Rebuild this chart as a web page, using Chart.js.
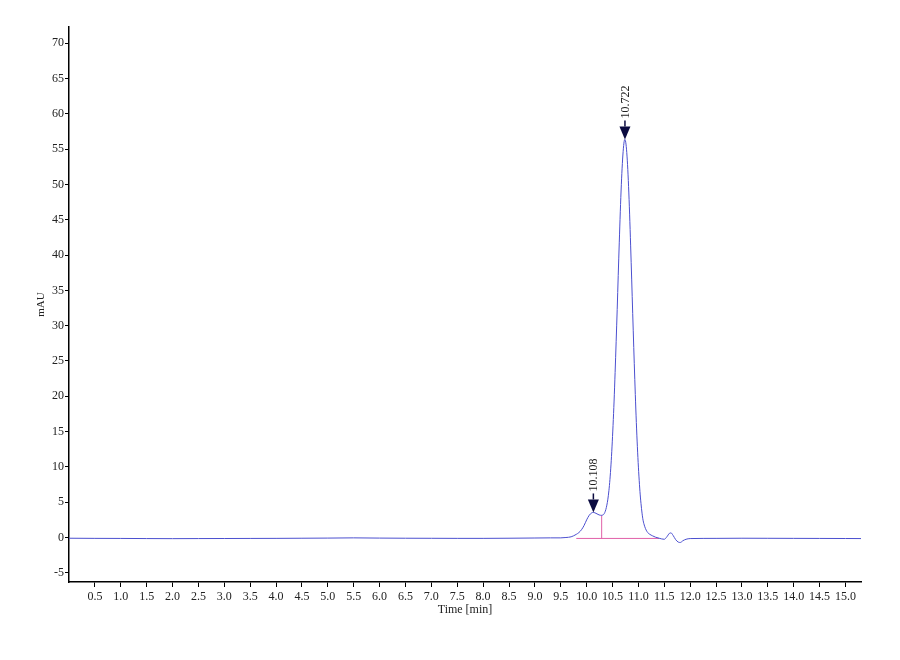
<!DOCTYPE html>
<html>
<head>
<meta charset="utf-8">
<script src="https://cdn.jsdelivr.net/npm/chart.js@4.4.1/dist/chart.umd.min.js"></script>
<style>
  html, body { margin: 0; padding: 0; background: #ffffff; }
  #wrap { width: 900px; height: 660px; }
</style>
</head>
<body>
<div id="wrap"><canvas id="c" width="900" height="660"></canvas></div>
<script>
// ---- data ----
const times = [
  0.0, 0.5, 1.0, 1.5, 2.0, 2.5, 3.0, 3.5, 4.0, 4.5, 5.0, 5.5, 6.0, 6.5, 7.0, 7.5, 8.0, 8.5, 9.0, 9.3,
  9.5, 9.6, 9.7, 9.75, 9.8, 9.85, 9.9, 9.95, 10.0, 10.05, 10.10, 10.13, 10.16, 10.20, 10.24, 10.27,
  10.29, 10.31, 10.33, 10.35, 10.37, 10.39, 10.41, 10.43, 10.45, 10.47, 10.49, 10.51, 10.53, 10.55,
  10.57, 10.59, 10.61, 10.63, 10.65, 10.67, 10.69, 10.71, 10.73, 10.74, 10.75, 10.77, 10.79, 10.81,
  10.83, 10.85, 10.87, 10.89, 10.91, 10.93, 10.95, 10.97, 10.99, 11.01, 11.03, 11.05, 11.07, 11.09,
  11.12, 11.15, 11.18, 11.22, 11.27, 11.33, 11.40, 11.45, 11.50, 11.55, 11.60, 11.63, 11.67, 11.72,
  11.77, 11.81, 11.86, 11.92, 12.0, 12.5, 13.0, 13.5, 14.0, 14.5, 15.0, 15.3
];
const signal = [
  -0.10, -0.12, -0.13, -0.15, -0.16, -0.15, -0.14, -0.13, -0.12, -0.10, -0.08, -0.05, -0.08, -0.10, -0.11, -0.12, -0.12, -0.10, -0.07, -0.05,
  -0.05, 0.0, 0.1, 0.25, 0.45, 0.7, 1.1, 1.7, 2.5, 3.15, 3.5, 3.55, 3.5, 3.35, 3.2, 3.15,
  3.14, 3.18, 3.28, 3.53, 3.95, 4.58, 5.43, 6.63, 8.23, 10.28, 12.83, 15.88, 19.33, 23.38,
  27.73, 32.28, 37.13, 41.73, 46.13, 49.96, 52.98, 55.13, 56.28, 56.36, 56.2, 55.0, 52.8, 49.7,
  45.8, 41.3, 36.6, 31.7, 26.9, 22.4, 18.2, 14.5, 11.35, 8.7, 6.5, 4.8, 3.45, 2.45,
  1.6, 1.05, 0.7, 0.45, 0.25, 0.05, -0.1, -0.2, -0.25, 0.1, 0.6, 0.65, 0.3, -0.3,
  -0.65, -0.7, -0.45, -0.25, -0.15, -0.12, -0.10, -0.11, -0.12, -0.13, -0.14, -0.15
];
const xTicks = [0.5,1.0,1.5,2.0,2.5,3.0,3.5,4.0,4.5,5.0,5.5,6.0,6.5,7.0,7.5,8.0,8.5,9.0,9.5,10.0,10.5,11.0,11.5,12.0,12.5,13.0,13.5,14.0,14.5,15.0];
const yTicks = [-5,0,5,10,15,20,25,30,35,40,45,50,55,60,65,70];
const peakTimes = [10.13, 10.74];
const peakHeights = [3.55, 56.36];
const peakLabels = ['10.108', '10.722'];
const baseLineTimes = [9.8, 11.4];
const baseLineLevel = -0.13;
const dropTime = 10.29;
const dropTop = 3.14;

const FONT = '"Liberation Serif", "DejaVu Serif", serif';

const points = times.map((t, i) => ({ x: t, y: signal[i] }));

const integrationPlugin = {
  id: 'integration',
  beforeDatasetsDraw(chart) {
    const { ctx, scales: { x, y } } = chart;
    ctx.save();
    ctx.strokeStyle = '#e060a8';
    ctx.lineWidth = 1;
    ctx.beginPath();
    ctx.moveTo(x.getPixelForValue(baseLineTimes[0]), y.getPixelForValue(baseLineLevel));
    ctx.lineTo(x.getPixelForValue(baseLineTimes[1]), y.getPixelForValue(baseLineLevel));
    ctx.moveTo(x.getPixelForValue(dropTime), y.getPixelForValue(baseLineLevel));
    ctx.lineTo(x.getPixelForValue(dropTime), y.getPixelForValue(dropTop));
    ctx.stroke();
    ctx.restore();
  },
  afterDatasetsDraw(chart) {
    const { ctx, scales: { x, y } } = chart;
    ctx.save();
    peakTimes.forEach((t, i) => {
      const px = x.getPixelForValue(t);
      const py = y.getPixelForValue(peakHeights[i]);
      // triangle
      ctx.fillStyle = '#0b0b40';
      ctx.beginPath();
      ctx.moveTo(px, py);
      ctx.lineTo(px - 5.5, py - 13);
      ctx.lineTo(px + 5.5, py - 13);
      ctx.closePath();
      ctx.fill();
      // stem
      ctx.strokeStyle = '#0b0b40';
      ctx.lineWidth = 1.5;
      ctx.beginPath();
      ctx.moveTo(px, py - 13);
      ctx.lineTo(px, py - 19);
      ctx.stroke();
      // label
      ctx.save();
      ctx.translate(px, py - 21);
      ctx.rotate(-Math.PI / 2);
      ctx.fillStyle = '#222222';
      ctx.font = '12px ' + FONT;
      ctx.textAlign = 'left';
      ctx.textBaseline = 'middle';
      ctx.fillText(peakLabels[i], 0, 0.5);
      ctx.restore();
    });
    ctx.restore();
  }
};

new Chart(document.getElementById('c'), {
  type: 'scatter',
  data: {
    datasets: [{
      data: points,
      showLine: true,
      borderColor: '#4b4fcf',
      borderWidth: 1,
      pointRadius: 0,
      fill: false,
      cubicInterpolationMode: 'monotone'
    }]
  },
  options: {
    responsive: false,
    animation: false,
    layout: { padding: { left: 0, right: 39, top: 27, bottom: 0 } },
    plugins: { legend: { display: false }, tooltip: { enabled: false } },
    scales: {
      x: {
        type: 'linear',
        min: 0,
        max: 15.3,
        afterBuildTicks(scale) { scale.ticks = xTicks.map(v => ({ value: v })); },
        afterFit(scale) { scale.height = 78; },
        grid: { drawOnChartArea: false, drawTicks: true, tickLength: 5, color: '#000', lineWidth: 1 },
        border: { display: true, color: '#000', width: 1.5 },
        ticks: {
          color: '#222',
          font: { family: FONT, size: 12 },
          padding: 3,
          maxRotation: 0,
          autoSkip: false,
          callback: v => Number(v).toFixed(1)
        },
        title: {
          display: true,
          text: 'Time [min]',
          color: '#222',
          font: { family: FONT, size: 12 },
          padding: { top: 0, bottom: 43 }
        }
      },
      y: {
        type: 'linear',
        min: -6.3,
        max: 72.3,
        afterBuildTicks(scale) { scale.ticks = yTicks.map(v => ({ value: v })); },
        afterFit(scale) { scale.width = 69; },
        grid: { drawOnChartArea: false, drawTicks: true, tickLength: 4, color: '#000', lineWidth: 1 },
        border: { display: true, color: '#000', width: 1.5 },
        ticks: {
          color: '#222',
          font: { family: FONT, size: 12 },
          padding: 1,
          autoSkip: false,
          callback: v => String(v)
        },
        title: {
          display: true,
          text: 'mAU',
          color: '#222',
          font: { family: FONT, size: 11 },
          padding: { top: 35, bottom: 0 }
        }
      }
    }
  },
  plugins: [integrationPlugin]
});
</script>
</body>
</html>
